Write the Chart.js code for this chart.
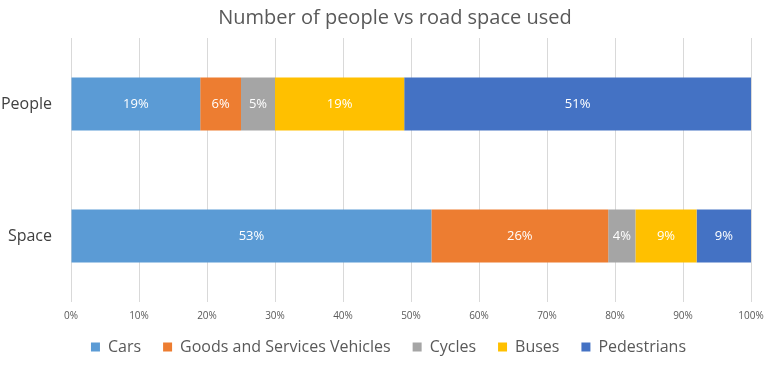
<!DOCTYPE html>
<html>
<head>
<meta charset="utf-8">
<script src="https://cdn.jsdelivr.net/npm/chart.js@4/dist/chart.umd.min.js"></script>
<style>
  html, body { margin: 0; padding: 0; background: #fff; }
  #wrap { width: 773px; height: 365px; position: relative; }
</style>
</head>
<body>
<div id="wrap"><canvas id="chart"></canvas></div>
<script>
// Number of people vs road space used: 100% stacked horizontal bars

var chartTitle = 'Number of people vs road space used';
var categories = ['People', 'Space'];
var seriesNames = ['Cars', 'Goods and Services Vehicles', 'Cycles', 'Buses', 'Pedestrians'];
var seriesColors = ['#5B9BD5', '#ED7D31', '#A5A5A5', '#FFC000', '#4472C4'];

// share per category, one array per series (People, Space)
var cars = [19, 53];
var goods = [6, 26];
var cycles = [5, 4];
var buses = [19, 9];
var pedestrians = [51, 8];

// labels as printed on the bars
var carsLabels = ['19%', '53%'];
var goodsLabels = ['6%', '26%'];
var cyclesLabels = ['5%', '4%'];
var busesLabels = ['19%', '9%'];
var pedestriansLabels = ['51%', '9%'];

var xTicks = [0, 10, 20, 30, 40, 50, 60, 70, 80, 90, 100];

var seriesValues = [cars, goods, cycles, buses, pedestrians];
var seriesLabels = [carsLabels, goodsLabels, cyclesLabels, busesLabels, pedestriansLabels];

var FONT = "'Open Sans', sans-serif";

var datasets = seriesNames.map(function (name, i) {
  return {
    label: name,
    data: seriesValues[i],
    barLabels: seriesLabels[i],
    backgroundColor: seriesColors[i],
    borderWidth: 0,
    categoryPercentage: 1,
    barPercentage: 0.4
  };
});

// white % label in the middle of each segment, plus the chart title
// (Excel puts the title and legend a little right of the canvas centre)
var labelPlugin = {
  id: 'barLabels',
  afterLayout: function (chart) {
    var lg = chart.legend;
    lg.left += 13; lg.right += 13;
    lg.top -= 7; lg.bottom -= 7;
  },
  afterDatasetsDraw: function (chart) {
    var ctx = chart.ctx;
    ctx.save();
    ctx.font = '13px ' + FONT;
    ctx.fillStyle = '#ffffff';
    ctx.textAlign = 'center';
    ctx.textBaseline = 'middle';
    chart.data.datasets.forEach(function (ds, i) {
      var meta = chart.getDatasetMeta(i);
      meta.data.forEach(function (bar, j) {
        var cx = (bar.x + bar.base) / 2;
        ctx.fillText(ds.barLabels[j], cx, bar.y);
      });
    });

    ctx.font = '20px ' + FONT;
    ctx.fillStyle = '#595959';
    ctx.fillText(chartTitle, 395, 18);
    ctx.restore();
  }
};

new Chart(document.getElementById('chart'), {
  type: 'bar',
  data: { labels: categories, datasets: datasets },
  plugins: [labelPlugin],
  options: {
    indexAxis: 'y',
    responsive: true,
    maintainAspectRatio: false,
    animation: false,
    layout: { padding: { left: 0, right: 22, top: 38, bottom: -7 } },
    scales: {
      x: {
        stacked: true,
        min: 0,
        max: 100,
        afterBuildTicks: function (axis) {
          axis.ticks = xTicks.map(function (v) { return { value: v }; });
        },
        afterFit: function (axis) { axis.height = 22; },
        ticks: {
          color: '#595959',
          font: { family: FONT, size: 10 },
          padding: 8,
          maxRotation: 0,
          callback: function (v) { return v + '%'; }
        },
        grid: { color: '#D9D9D9', lineWidth: 1, drawTicks: false },
        border: { display: false }
      },
      y: {
        stacked: true,
        afterFit: function (axis) { axis.width = 71; },
        ticks: {
          color: '#404040',
          font: { family: FONT, size: 16 },
          padding: 19
        },
        grid: { display: false, drawTicks: false },
        border: { display: false }
      }
    },
    plugins: {
      title: { display: false },
      legend: {
        position: 'bottom',
        labels: {
          color: '#595959',
          font: { family: FONT, size: 16 },
          boxWidth: 9,
          boxHeight: 9,
          padding: 22
        }
      },
      tooltip: { enabled: false }
    }
  }
});
</script>
</body>
</html>
